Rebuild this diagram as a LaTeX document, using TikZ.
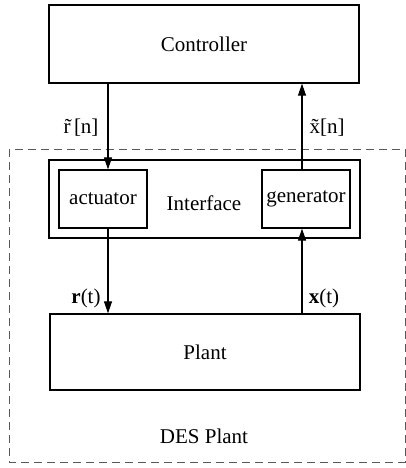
\documentclass[tikz,border=0pt]{standalone}
\usepackage{fontspec}
\setmainfont{Liberation Serif}
\usetikzlibrary{arrows.meta,shapes,calc}

\begin{document}
\begin{tikzpicture}[x=1pt, y=-1pt,
	font=\fontsize{21}{24}\selectfont,
	blk/.style={draw, line width=1.3pt, minimum width=310pt, minimum height=78pt, inner sep=0pt},
	sub/.style={draw, line width=1.3pt, minimum width=88pt, minimum height=58pt, inner sep=0pt},
	sig/.style={line width=1.1pt, -{Triangle[length=12pt,width=8pt]}}]

		% === bounds ===
		\useasboundingbox (0,0) rectangle (406,468);
		\def\rx{108}	\def\xx{302}

		% === DES plant frame ===
		\draw[gray!70!black, line width=0.8pt, dash pattern=on 8pt off 5pt] (9,149) rectangle (405,462);
		\node (desplant) at (204,436) {DES Plant};

		% === Blocks ===
		\node[blk] (controller) at (204,44) {Controller};
		\node[blk, minimum width=311pt] (interface) at (204.5,199) {};
		\node (iflabel) at (204,203) {Interface};
		\node[sub] (actuator) at (103,199) {actuator};
		\node[sub] (generator) at (306,199) {generator};
		\node[blk, minimum height=76pt] (plant) at (205,352) {Plant};

		% === Signals ===
		\coordinate (rcol) at (\rx,0);
		\coordinate (xcol) at (\xx,0);
		\draw[sig] (controller.south -| rcol) -- (actuator.north -| rcol);
		\draw[sig] (generator.north -| xcol) -- (controller.south -| xcol);
		\draw[sig] (actuator.south -| rcol) -- (plant.north -| rcol);
		\draw[sig] (plant.north -| xcol) -- (generator.south -| xcol);

		% === Signal labels ===
		\node (rn) at (81,128) {\~{r}\,[n]};
		\node (xn) at (327,128) {\~{x}[n]};
		\node (rt) at (86,298) {\textbf{r}(t)};
		\node (xt) at (324,298) {\textbf{x}(t)};
	\end{tikzpicture}
\end{document}
